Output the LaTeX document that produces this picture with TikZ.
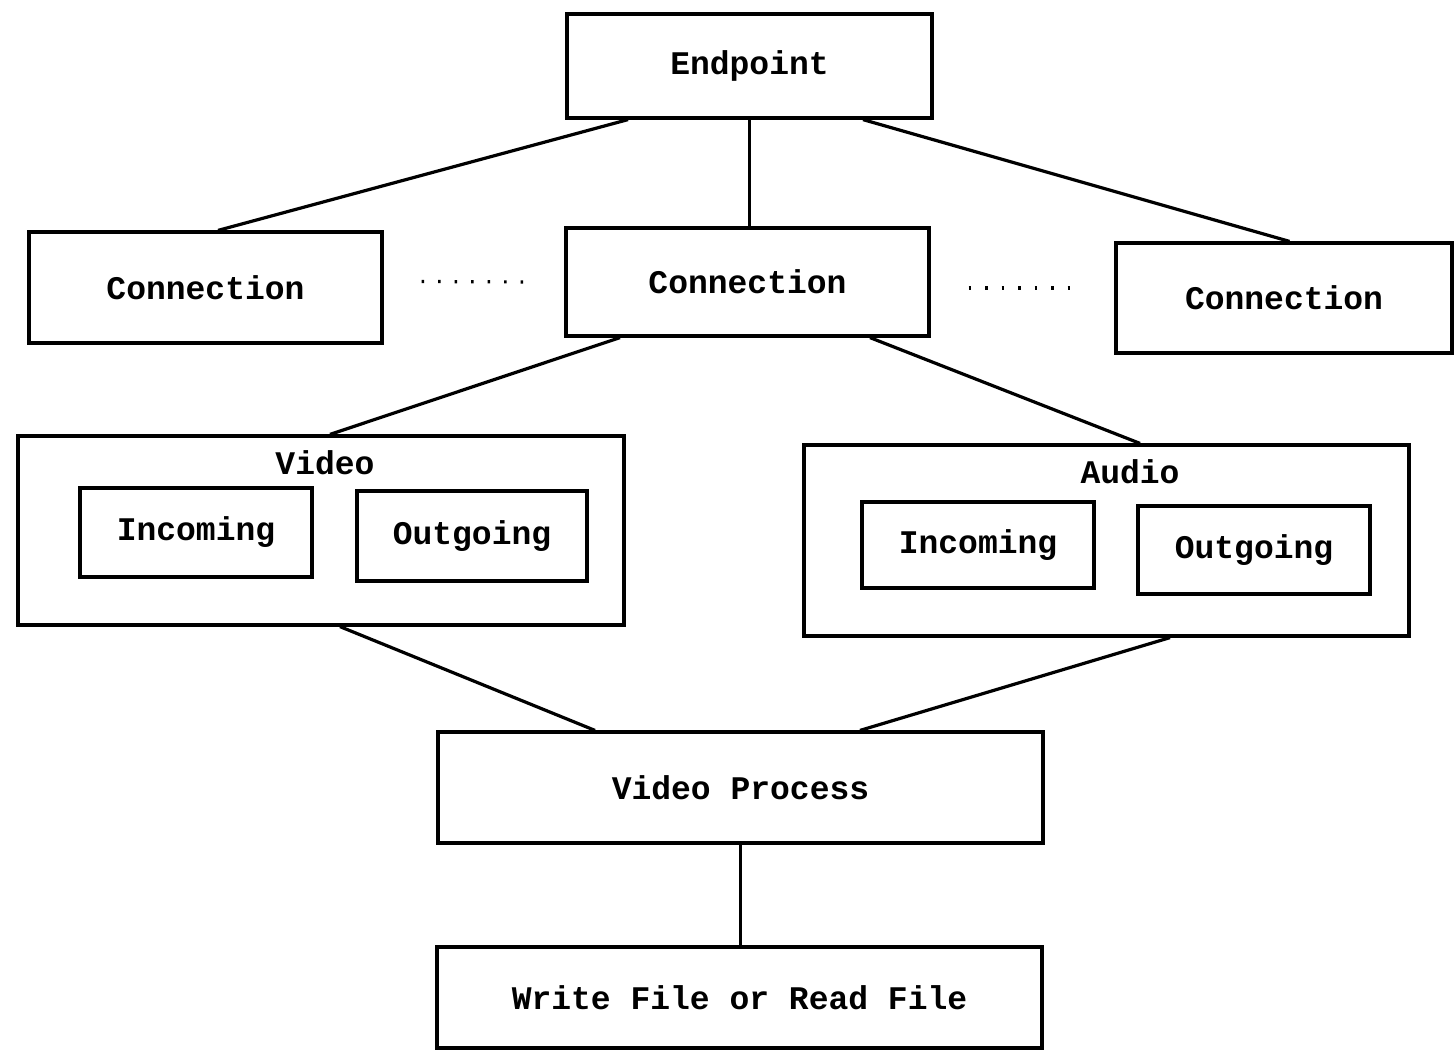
\documentclass[tikz,border=0pt]{standalone}
\usepackage{fontspec}
\setmainfont{Liberation Mono}
\usetikzlibrary{calc}
\tikzset{
  box/.style={draw, line width=3.2pt, rectangle, inner sep=0pt,
    font=\bfseries\fontsize{33}{38}\selectfont},
  wire/.style={line width=3.2pt},
  dots/.style={line width=3.2pt, dash pattern=on 2.5pt off 14pt},
  title/.style={font=\bfseries\fontsize{33}{38}\selectfont, inner sep=0pt}
}
\begin{document}
\begin{tikzpicture}[x=1pt,y=-1pt]
\useasboundingbox (0,0) rectangle (1455,1053);

% top level
\node[box, minimum width=365pt, minimum height=104pt] (ep) at (749.5,66) {\raisebox{-4pt}{Endpoint}};

% connections
\node[box, minimum width=353pt, minimum height=111pt] (cl) at (205.5,287.5) {Connection};
\node[box, minimum width=363pt, minimum height=108pt] (cm) at (747.5,282) {Connection};
\node[box, minimum width=336pt, minimum height=110pt] (cr) at (1284,298) {Connection};

% media groups
\node[box, minimum width=606pt, minimum height=189pt] (vid) at (321,530.5) {};
\node[title, anchor=center] (vidt) at (325,463) {Video};
\node[box, minimum width=232pt, minimum height=89pt] (vin) at (196,532.5) {Incoming};
\node[box, minimum width=230pt, minimum height=90pt] (vout) at (472,536) {Outgoing};

\node[box, minimum width=605pt, minimum height=191pt] (aud) at (1106.5,540.5) {};
\node[title, anchor=center] (audt) at (1130,472) {Audio};
\node[box, minimum width=232pt, minimum height=86pt] (ain) at (978,545) {Incoming};
\node[box, minimum width=232pt, minimum height=88pt] (aout) at (1254,550) {Outgoing};

% processing chain
\node[box, minimum width=605pt, minimum height=111pt] (vp) at (740.5,787.5) {Video Process};
\node[box, minimum width=605pt, minimum height=101pt] (wf) at (739.5,997.5) {Write File or Read File};

% connectors
\draw[wire] ([xshift=-121.5pt]ep.south) -- ([xshift=12.5pt]cl.north);
\draw[wire] (ep.south) -- (ep.south |- cm.north);
\draw[wire] ([xshift=113.5pt]ep.south) -- ([xshift=5.5pt]cr.north);

\draw[dots] ($(cl.east)+(38,-6)$) -- ($(cm.west)+(-32,0)$);
\draw[dots] ($(cm.east)+(38,6)$) -- ($(cr.west)+(-34,-10)$);

\draw[wire] ([xshift=-127.5pt]cm.south) -- ([xshift=9pt]vid.north);
\draw[wire] ([xshift=122.5pt]cm.south) -- ([xshift=33.5pt]aud.north);

\draw[wire] ([xshift=19pt]vid.south) -- ([xshift=-145.5pt]vp.north);
\draw[wire] ([xshift=63.5pt]aud.south) -- ([xshift=119.5pt]vp.north);

\draw[wire] (vp.south) -- (vp.south |- wf.north);
\end{tikzpicture}
\end{document}
